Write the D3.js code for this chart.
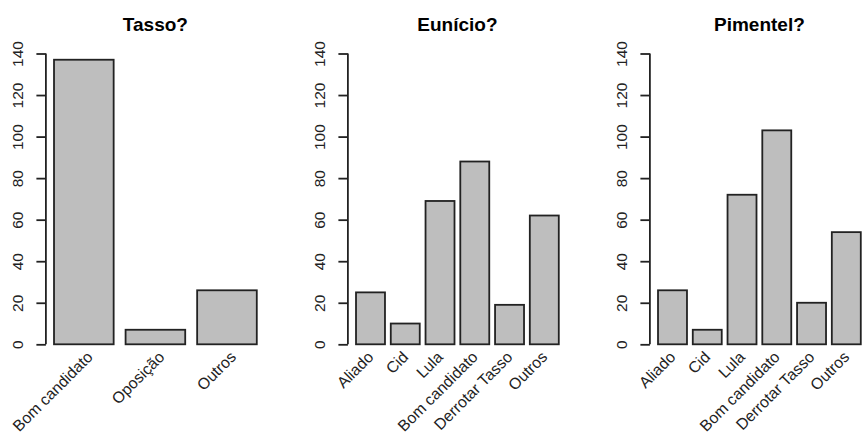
<!DOCTYPE html>
<html>
<head>
<meta charset="utf-8">
<script src="https://cdn.jsdelivr.net/npm/d3@7"></script>
<style>
  html, body { margin: 0; padding: 0; background: #fff; }
  svg { display: block; font-family: "Liberation Sans", Arial, Helvetica, sans-serif; }
</style>
</head>
<body>
<svg id="chart" width="862" height="435"></svg>
<script>
// ---- data ----
const titles = ["Tasso?", "Eunício?", "Pimentel?"];
const tassoCategories = ["Bom candidato", "Oposição", "Outros"];
const tassoValues = [137, 7, 26];
const eunicioCategories = ["Aliado", "Cid", "Lula", "Bom candidato", "Derrotar Tasso", "Outros"];
const eunicioValues = [25, 10, 69, 88, 19, 62];
const pimentelCategories = ["Aliado", "Cid", "Lula", "Bom candidato", "Derrotar Tasso", "Outros"];
const pimentelValues = [26, 7, 72, 103, 20, 54];
const yTicks = [0, 20, 40, 60, 80, 100, 120, 140];

const panels = [
  { title: titles[0], cats: tassoCategories, vals: tassoValues },
  { title: titles[1], cats: eunicioCategories, vals: eunicioValues },
  { title: titles[2], cats: pimentelCategories, vals: pimentelValues }
];

// ---- layout ----
const panelWidth = 302;
const plotLeft0 = 45.9;
const plotW = 219;
const yBottom = 344.3, yTop = 53.5;
const labelDx = [10, 4, 4];
const labelY = 358;
const barFill = "#bebebe";
const ink = "#222";

const svg = d3.select("#chart");
svg.append("rect").attr("width", 862).attr("height", 435).attr("fill", "#fff");

const y = d3.scaleLinear().domain([0, 140]).range([yBottom, yTop]);

panels.forEach((p, pi) => {
  const left = plotLeft0 + panelWidth * pi;
  const n = p.cats.length;
  const lo = 0.2, hi = n * 1.2;
  const ext = 0.04 * (hi - lo);
  const x = d3.scaleLinear().domain([lo - ext, hi + ext]).range([left, left + plotW]);

  const g = svg.append("g");

  // bars
  g.selectAll("rect.bar")
    .data(p.vals)
    .join("rect")
    .attr("class", "bar")
    .attr("x", (d, i) => x(0.2 + i * 1.2))
    .attr("width", (d, i) => x(1.2 + i * 1.2) - x(0.2 + i * 1.2))
    .attr("y", d => y(d))
    .attr("height", d => y(0) - y(d))
    .attr("fill", barFill)
    .attr("stroke", ink)
    .attr("stroke-width", 1.8);

  // y axis
  const axis = d3.axisLeft(y).tickValues(yTicks).tickSize(9.5).tickSizeOuter(0).tickPadding(0);
  const ag = g.append("g").attr("transform", `translate(${left},0)`).call(axis);
  ag.attr("font-family", null).attr("font-size", null);
  ag.select(".domain").attr("stroke", ink).attr("stroke-width", 1.8)
    .attr("d", `M0,${y(0)}V${y(140)}`);
  ag.selectAll(".tick line").attr("stroke", ink).attr("stroke-width", 1.8);
  ag.selectAll(".tick text")
    .attr("x", null).attr("dy", null)
    .attr("transform", "translate(-23,0) rotate(-90)")
    .attr("text-anchor", "middle")
    .attr("font-size", 15.5)
    .attr("fill", ink);

  // x labels
  g.selectAll("text.xl")
    .data(p.cats)
    .join("text")
    .attr("class", "xl")
    .attr("transform", (d, i) => `translate(${x(0.7 + i * 1.2) + labelDx[pi]},${labelY}) rotate(-45)`)
    .attr("text-anchor", "end")
    .attr("font-size", 15.8)
    .attr("fill", ink)
    .text(d => d);

  // title
  g.append("text")
    .attr("x", left + plotW / 2)
    .attr("y", 31)
    .attr("text-anchor", "middle")
    .attr("font-size", 19)
    .attr("font-weight", "bold")
    .attr("fill", "#000")
    .text(p.title);
});
</script>
</body>
</html>
